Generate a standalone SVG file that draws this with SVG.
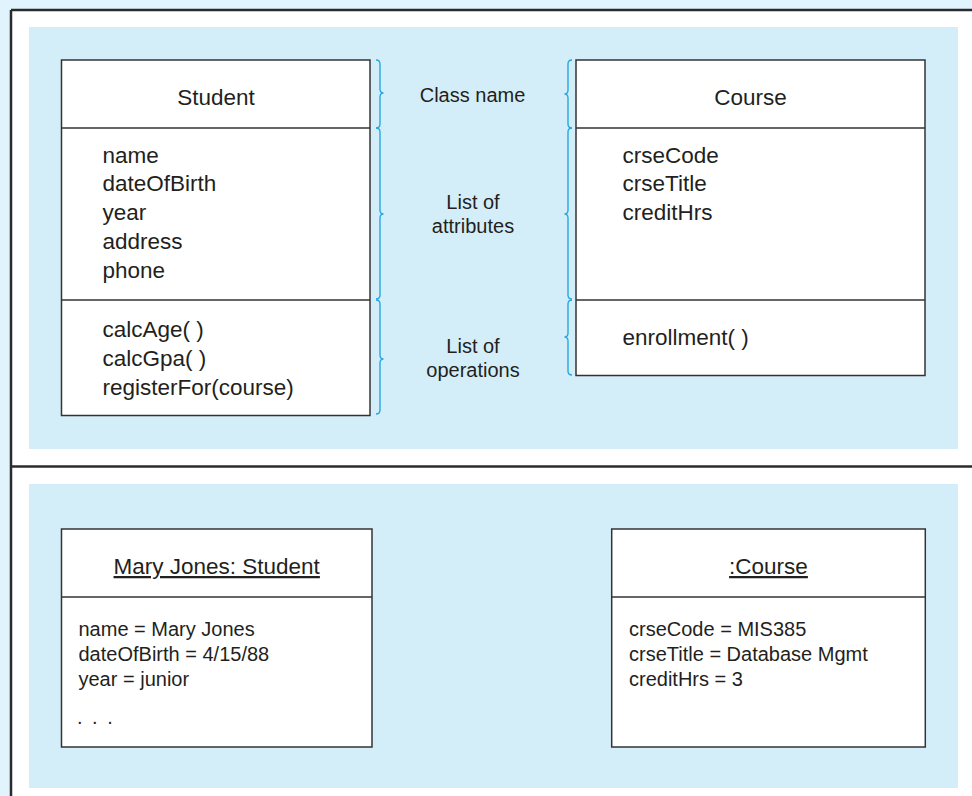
<svg xmlns="http://www.w3.org/2000/svg" width="972" height="796" viewBox="0 0 972 796">
<style>
.t{font-family:"Liberation Sans",Arial,sans-serif;fill:#231f20}
.big{font-size:22.5px}
.lab{font-size:20px}
.sm{font-size:20px}
.box{fill:#ffffff;stroke:#333333;stroke-width:1.5}
.div{stroke:#333333;stroke-width:1.5}
.br{fill:none;stroke:#27a8e0;stroke-width:1.4}
.frame{stroke:#2b2b2b;stroke-width:2.5}
.panel{fill:#d4eef9}
</style>
<rect x="0" y="0" width="972" height="796" fill="#e1f3fc"/>
<rect x="11" y="10" width="961" height="786" fill="#ffffff"/>
<g id="frame">
<line class="frame" x1="11" y1="10" x2="972" y2="10"/>
<line class="frame" x1="11" y1="10" x2="11" y2="796"/>
<line class="frame" x1="11" y1="466.5" x2="972" y2="466.5"/>
</g>
<rect class="panel" x="29" y="27" width="929" height="422"/>
<rect class="panel" x="29" y="484" width="929" height="304"/>

<g id="student-class">
<rect class="box" x="61.5" y="60" width="308.5" height="355.5"/>
<line class="div" x1="61.5" y1="128" x2="370" y2="128"/>
<line class="div" x1="61.5" y1="300" x2="370" y2="300"/>
<text class="t big" x="216" y="105" text-anchor="middle">Student</text>
<text class="t big" x="102.5" y="162.5">name</text>
<text class="t big" x="102.5" y="191">dateOfBirth</text>
<text class="t big" x="102.5" y="220">year</text>
<text class="t big" x="102.5" y="249">address</text>
<text class="t big" x="102.5" y="278">phone</text>
<text class="t big" x="102.5" y="337">calcAge( )</text>
<text class="t big" x="102.5" y="366">calcGpa( )</text>
<text class="t big" x="102.5" y="395">registerFor(course)</text>
</g>

<g id="course-class">
<rect class="box" x="576" y="60" width="349" height="315.5"/>
<line class="div" x1="576" y1="128" x2="925" y2="128"/>
<line class="div" x1="576" y1="300" x2="925" y2="300"/>
<text class="t big" x="750.5" y="105" text-anchor="middle">Course</text>
<text class="t big" x="622.5" y="162.5">crseCode</text>
<text class="t big" x="622.5" y="191">crseTitle</text>
<text class="t big" x="622.5" y="220">creditHrs</text>
<text class="t big" x="622.5" y="345">enrollment( )</text>
</g>

<g id="labels">
<text class="t lab" x="472.5" y="102" text-anchor="middle">Class name</text>
<text class="t lab" x="473" y="209" text-anchor="middle">List of</text>
<text class="t lab" x="473" y="233" text-anchor="middle">attributes</text>
<text class="t lab" x="473" y="353" text-anchor="middle">List of</text>
<text class="t lab" x="473" y="377" text-anchor="middle">operations</text>
</g>

<g id="braces">
<path class="br" d="M376,60 Q380,60 380,64 L380,89 Q380,93 383.5,93 Q380,93 380,97 L380,124 Q380,128 376,128"/>
<path class="br" d="M376,128 Q380,128 380,132 L380,210 Q380,214 383.5,214 Q380,214 380,218 L380,295 Q380,299 376,299"/>
<path class="br" d="M376,300 Q380,300 380,304 L380,355 Q380,359 383.5,359 Q380,359 380,363 L380,410 Q380,414 376,414"/>
<path class="br" d="M572,60 Q568,60 568,64 L568,90 Q568,94 564.5,94 Q568,94 568,98 L568,124 Q568,128 572,128"/>
<path class="br" d="M572,128 Q568,128 568,132 L568,210 Q568,214 564.5,214 Q568,214 568,218 L568,295 Q568,299 572,299"/>
<path class="br" d="M572,300 Q568,300 568,304 L568,333 Q568,337 564.5,337 Q568,337 568,341 L568,371 Q568,375 572,375"/>
</g>

<g id="mary-object">
<rect class="box" x="61.5" y="529" width="310.5" height="218"/>
<line class="div" x1="61.5" y1="597" x2="372" y2="597"/>
<text class="t big" x="216.7" y="574" text-anchor="middle" text-decoration="underline">Mary Jones: Student</text>
<text class="t sm" x="78.5" y="636">name = Mary Jones</text>
<text class="t sm" x="78.5" y="661">dateOfBirth = 4/15/88</text>
<text class="t sm" x="78.5" y="686">year = junior</text>
<text class="t sm" x="77" y="724" letter-spacing="2">. . .</text>
</g>

<g id="course-object">
<rect class="box" x="611.7" y="529" width="313.6" height="218"/>
<line class="div" x1="611.7" y1="597" x2="925.3" y2="597"/>
<text class="t big" x="768.5" y="574" text-anchor="middle" text-decoration="underline">:Course</text>
<text class="t sm" x="629" y="636">crseCode = MIS385</text>
<text class="t sm" x="629" y="661">crseTitle = Database Mgmt</text>
<text class="t sm" x="629" y="686">creditHrs = 3</text>
</g>
<g id="connectors"/>
</svg>
